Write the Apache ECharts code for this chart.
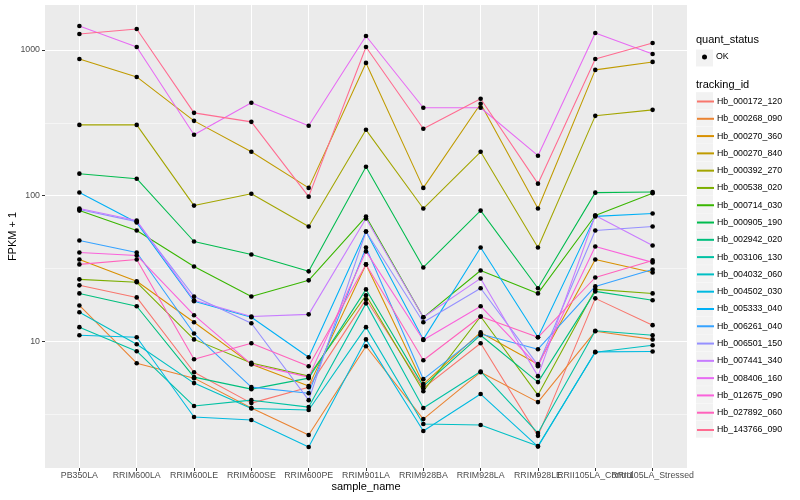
<!DOCTYPE html>
<html><head><meta charset="utf-8">
<script src="https://cdn.jsdelivr.net/npm/echarts@6/dist/echarts.min.js"></script>
<style>html,body{margin:0;padding:0;background:#fff}#c{width:800px;height:500px}</style>
</head><body><div id="c"></div>
<script>
// ---------- data (FPKM + 1) ----------
const categories = ["PB350LA","RRIM600LA","RRIM600LE","RRIM600SE","RRIM600PE","RRIM901LA","RRIM928BA","RRIM928LA","RRIM928LE","RRII105LA_Control","RRII105LA_Stressed"];
const trackingIds = ["Hb_000172_120","Hb_000268_090","Hb_000270_360","Hb_000270_840","Hb_000392_270","Hb_000538_020","Hb_000714_030","Hb_000905_190","Hb_002942_020","Hb_003106_130","Hb_004032_060","Hb_004502_030","Hb_005333_040","Hb_006261_040","Hb_006501_150","Hb_007441_340","Hb_008406_160","Hb_012675_090","Hb_027892_060","Hb_143766_090"];
const colors = ["#F8766D","#EA8331","#D89000","#C09B00","#A3A500","#7CAE00","#39B600","#00BB4E","#00BF7D","#00C1A3","#00BFC4","#00BAE0","#00B0F6","#35A2FF","#9590FF","#C77CFF","#E76BF3","#FA62DB","#FF62BC","#FF6C91"];

const Hb_000172_120 = [24.2, 20.0, 6.13, 3.76, 4.84, 19.4, 4.76, 9.69, 2.24, 19.7, 12.9];
const Hb_000268_090 = [17.6, 7.07, 5.58, 3.48, 2.27, 9.24, 2.92, 6.13, 3.82, 11.7, 10.3];
const Hb_000270_360 = [36.4, 25.8, 13.5, 6.96, 4.92, 33.7, 5.08, 11.5, 6.96, 36.4, 29.7];
const Hb_000270_840 = [868, 653, 326, 200, 113, 815, 113, 427, 81.5, 730, 828];
const Hb_000392_270 = [306, 306, 85.4, 103, 61.3, 283, 81.5, 200, 44.0, 353, 388];
const Hb_000538_020 = [26.6, 25.4, 10.3, 7.1, 5.76, 20.7, 4.54, 14.8, 4.27, 22.7, 21.3];
const Hb_000714_030 = [78.9, 57.6, 32.6, 20.3, 26.2, 71.8, 14.6, 30.6, 21.3, 73.0, 104];
const Hb_000905_190 = [141.5, 130.7, 48.4, 39.4, 30.2, 158, 32.1, 78.9, 23.1, 104.8, 106];
const Hb_002942_020 = [21.3, 17.4, 5.67, 4.69, 5.58, 22.7, 4.92, 11.0, 5.24, 22.0, 19.1];
const Hb_003106_130 = [12.5, 8.54, 3.59, 3.94, 3.53, 18.2, 3.48, 6.2, 2.34, 11.8, 11.0];
const Hb_004032_060 = [15.8, 9.54, 5.16, 3.45, 3.37, 12.5, 2.70, 2.66, 1.91, 8.41, 9.39];
const Hb_004502_030 = [11.0, 10.65, 3.02, 2.88, 1.88, 10.3, 2.42, 4.34, 1.89, 8.45, 8.5];
const Hb_005333_040 = [105, 65.3, 18.8, 14.6, 7.77, 56.7, 10.3, 44.0, 10.65, 72, 75.3];
const Hb_006261_040 = [49.2, 40.7, 11.3, 4.84, 4.40, 44.0, 5.49, 11.2, 8.82, 23.8, 31.1];
const Hb_006501_150 = [80.2, 66.3, 20.3, 13.3, 3.94, 56.7, 13.5, 23.1, 6.85, 57.6, 61.3];
const Hb_007441_340 = [81.5, 67.4, 19.1, 14.8, 15.3, 69.6, 14.6, 27.0, 5.76, 73.0, 45.4];
const Hb_008406_160 = [1460, 1048, 262, 434, 302, 1247, 401, 401, 188, 1307, 939];
const Hb_012675_090 = [40.7, 38.8, 15.1, 6.96, 5.67, 41.4, 10.2, 17.4, 6.74, 44.7, 34.8];
const Hb_027892_060 = [33.7, 36.4, 7.53, 9.69, 6.74, 33.7, 7.41, 14.8, 10.65, 27.4, 35.9];
const Hb_143766_090 = [1287, 1392, 370, 321, 98.4, 1048, 288, 462, 120.8, 868, 1117];

const seriesValues = [Hb_000172_120,Hb_000268_090,Hb_000270_360,Hb_000270_840,Hb_000392_270,Hb_000538_020,Hb_000714_030,Hb_000905_190,Hb_002942_020,Hb_003106_130,Hb_004032_060,Hb_004502_030,Hb_005333_040,Hb_006261_040,Hb_006501_150,Hb_007441_340,Hb_008406_160,Hb_012675_090,Hb_027892_060,Hb_143766_090];
const majorBreaks = [1, 2, 3];        // log10 of 10, 100, 1000
const minorBreaks = [0.5, 1.5, 2.5];

// ---------- scales ----------
const allLog = [].concat(...seriesValues).map(v => Math.log10(v));
const dMin = Math.min(...allLog), dMax = Math.max(...allLog);
const pad = (dMax - dMin) * 0.05;
const yMin = dMin - pad, yMax = dMax + pad;
const xIdx = categories.map((c, i) => i);
const xEven = xIdx.filter(i => i % 2 === 0), xOdd = xIdx.filter(i => i % 2 === 1);

const FONT = 'Liberation Sans, Arial, sans-serif';
const chart = echarts.init(document.getElementById('c'), null, {renderer: 'canvas'});

const series = trackingIds.map((id, k) => ({
  name: id, type: 'line', xAxisIndex: 0, yAxisIndex: 0,
  data: seriesValues[k].map((v, i) => [i, Math.log10(v)]),
  symbol: 'circle', showSymbol: false, silent: true,
  lineStyle: {width: 1.07, color: colors[k]}, itemStyle: {color: colors[k]},
  z: 2
}));
const pts = [];
seriesValues.forEach(arr => arr.forEach((v, i) => pts.push([i, Math.log10(v)])));
series.push({name: 'OK', type: 'scatter', data: pts, symbol: 'circle', symbolSize: 4.6,
  itemStyle: {color: '#000', opacity: 1}, silent: true, z: 5});

// legend key backgrounds
const legLeft = 696, legTop = 92.2, keyW = 17, keyH = 17, keyStep = 17.29;
const graphics = [{type: 'rect', left: legLeft, top: 49.5, shape: {width: keyW, height: keyH}, style: {fill: '#F2F2F2'}, z: -1}];
trackingIds.forEach((id, k) => graphics.push({type: 'rect', left: legLeft, top: legTop + k * keyStep,
  shape: {width: keyW, height: keyH}, style: {fill: '#F2F2F2'}, z: -1}));

const xLabelStyle = {fontSize: 8.8, color: '#4D4D4D', margin: 3, fontFamily: FONT,
  showMinLabel: true, showMaxLabel: true, hideOverlap: false, formatter: v => categories[Math.round(v)]};

chart.setOption({
  animation: false,
  backgroundColor: '#fff',
  textStyle: {fontFamily: FONT},
  grid: {left: 45, right: 113, top: 5, bottom: 32, show: true, backgroundColor: '#EBEBEB', borderWidth: 0,
    containLabel: false, outerBoundsMode: 'none'},
  xAxis: [{
    type: 'value', min: -0.6, max: categories.length - 1 + 0.6, position: 'bottom',
    name: 'sample_name', nameLocation: 'middle', nameGap: 13, nameMoveOverlap: false,
    nameTextStyle: {fontSize: 11, color: '#000', fontFamily: FONT},
    axisLine: {show: false, onZero: false},
    axisTick: {show: true, length: 3, customValues: xIdx, lineStyle: {color: '#333', width: 1}},
    axisLabel: Object.assign({customValues: xEven}, xLabelStyle),
    splitLine: {show: true, lineStyle: {color: '#fff', width: 1.07}}
  }, {
    type: 'value', min: -0.6, max: categories.length - 1 + 0.6, position: 'bottom', offset: 0,
    axisLine: {show: false, onZero: false},
    axisTick: {show: false, customValues: xOdd},
    axisLabel: Object.assign({customValues: xOdd}, xLabelStyle),
    splitLine: {show: false}
  }],
  yAxis: [{
    type: 'value', min: yMin, max: yMax,
    name: 'FPKM + 1', nameLocation: 'middle', nameGap: 27, nameMoveOverlap: false,
    nameTextStyle: {fontSize: 11, color: '#000', fontFamily: FONT},
    axisLine: {show: false, onZero: false},
    axisTick: {show: true, length: 3, customValues: majorBreaks, lineStyle: {color: '#333', width: 1}},
    axisLabel: {customValues: majorBreaks, formatter: v => String(Math.round(Math.pow(10, v))), fontSize: 8.8, color: '#4D4D4D', margin: 5, fontFamily: FONT},
    splitLine: {show: true, lineStyle: {color: '#fff', width: 1.07}}
  }, {
    type: 'value', min: yMin, max: yMax, position: 'left',
    axisLine: {show: false, onZero: false},
    axisTick: {show: false, customValues: minorBreaks},
    axisLabel: {show: false, customValues: minorBreaks},
    splitLine: {show: true, lineStyle: {color: '#fff', width: 0.53}}
  }],
  title: [
    {text: 'quant_status', left: 696, top: 34.5, padding: 0, textStyle: {fontSize: 11, fontWeight: 'normal', color: '#000', fontFamily: FONT}},
    {text: 'tracking_id', left: 696, top: 79.5, padding: 0, textStyle: {fontSize: 11, fontWeight: 'normal', color: '#000', fontFamily: FONT}}
  ],
  legend: [{
    data: ['OK'], orient: 'vertical', left: 702, top: 52.5, padding: 0,
    icon: 'circle', itemWidth: 5, itemHeight: 5, itemGap: 0,
    textStyle: {fontSize: 8.8, color: '#000', fontFamily: FONT, padding: [0, 0, 0, 4]}, selectedMode: false
  }, {
    data: trackingIds, orient: 'vertical', left: legLeft, top: legTop + 2.5, padding: 0,
    itemWidth: keyW, itemHeight: keyH, itemGap: keyStep - 0.8 * keyH,
    itemStyle: {opacity: 0},
    textStyle: {fontSize: 8.8, color: '#000', fontFamily: FONT, padding: [0, 0, 0, -2]}, selectedMode: false
  }],
  graphic: graphics,
  series: series
});
</script></body></html>
